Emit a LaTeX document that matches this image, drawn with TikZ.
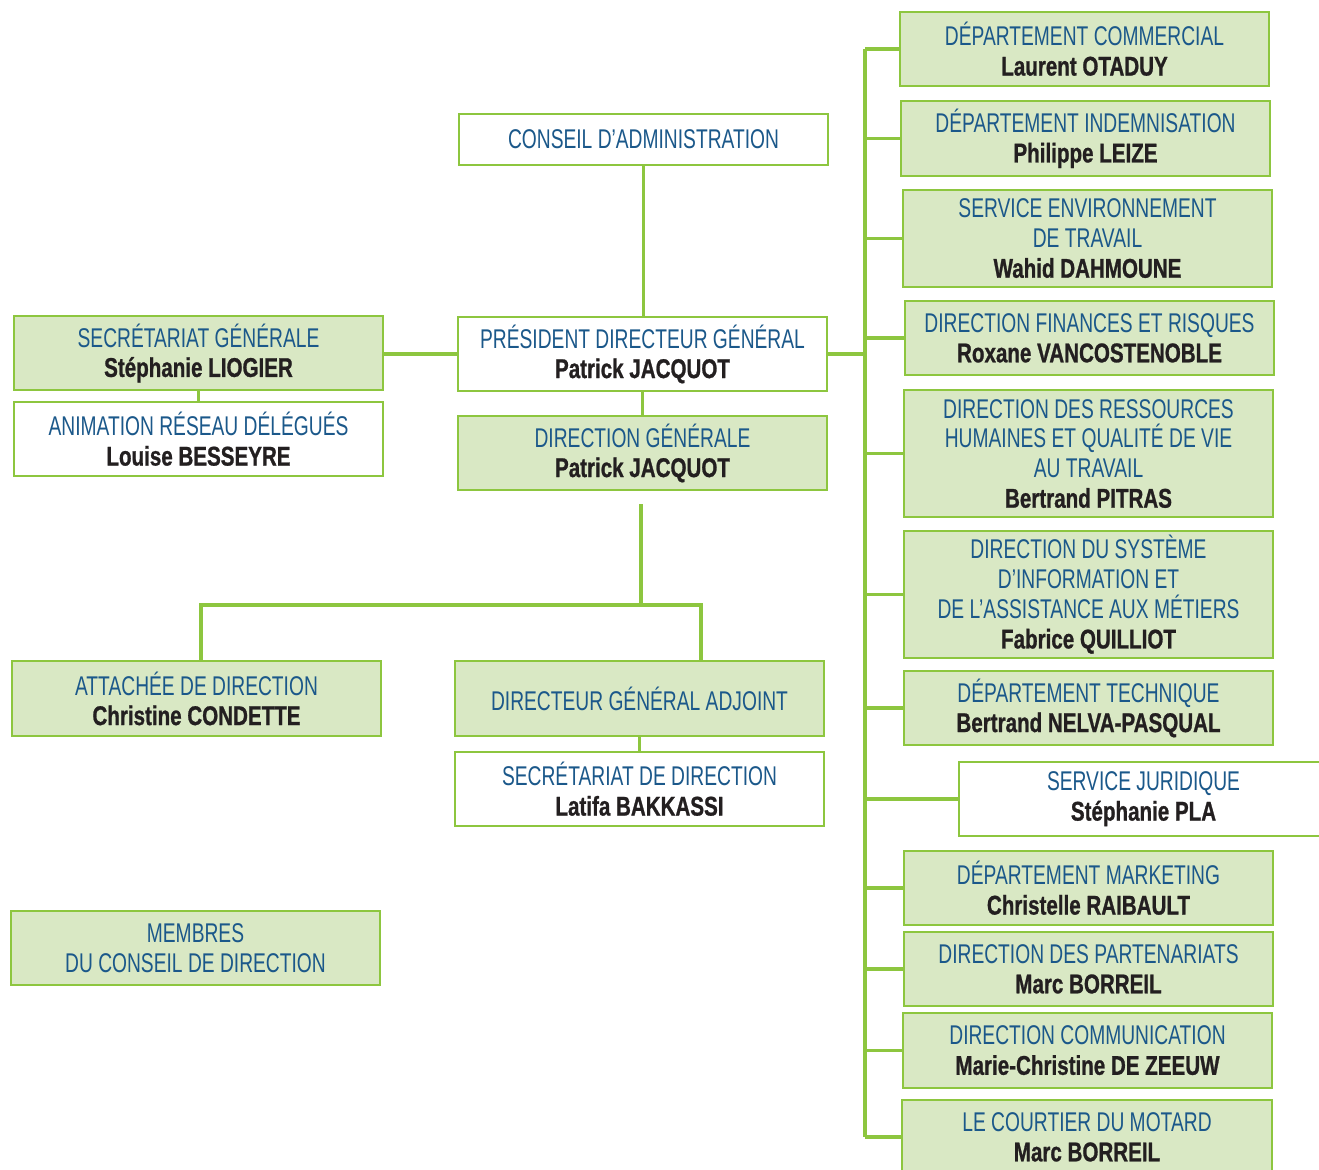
\documentclass[tikz,border=0pt]{standalone}
\usepackage{fontspec}
\usepackage{tikz}
\newfontfamily\titlefont{Liberation Sans}[FakeStretch=0.71]
\newfontfamily\namefont{Liberation Sans}[FakeStretch=0.76, FakeBold=0.9]
\definecolor{boxline}{RGB}{141,198,63}
\definecolor{boxfill}{RGB}{217,232,196}
\definecolor{titleblue}{RGB}{27,88,138}
\definecolor{namecol}{RGB}{35,31,32}
\newcommand{\who}[1]{{\namefont\bfseries\color{namecol}#1}}

\begin{document}
\begin{tikzpicture}[x=0.01cm, y=-0.01cm,
  box/.style={draw=boxline, line width=0.6pt, fill=white, minimum width=3.69cm,
    minimum height=0.74cm, inner sep=0pt, align=center, text=titleblue,
    font={\titlefont\fontsize{7.7}{8.5}\selectfont}},
  greenbox/.style={box, fill=boxfill},
  link/.style={draw=boxline, line width=0.9pt}]
  \useasboundingbox (0,0) rectangle (1319,1169);
  % centre column
  \node[box, minimum height=0.51cm] (ca) at (643.5,139.5) {CONSEIL D’ADMINISTRATION};
  \node[box] (pdg) at (642.5,354) {PRÉSIDENT DIRECTEUR GÉNÉRAL\\\who{Patrick JACQUOT}};
  \node[greenbox] (dg) at (642.5,453) {DIRECTION GÉNÉRALE\\\who{Patrick JACQUOT}};
  \node[greenbox, minimum height=0.75cm] (dga) at (639.5,698.5) {DIRECTEUR GÉNÉRAL ADJOINT};
  \node[box] (sd) at (639.5,789) {SECRÉTARIAT DE DIRECTION\\\who{Latifa BAKKASSI}};
  % left column
  \node[greenbox] (sg) at (198.5,353) {SECRÉTARIAT GÉNÉRALE\\\who{Stéphanie LIOGIER}};
  \node[box] (anim) at (198.5,439) {ANIMATION RÉSEAU DÉLÉGUÉS\\\who{Louise BESSEYRE}};
  \node[greenbox, minimum height=0.75cm] (att) at (196.5,698.5) {ATTACHÉE DE DIRECTION\\\who{Christine CONDETTE}};
  \node[greenbox] (mem) at (195.5,948) {MEMBRES\\DU CONSEIL DE DIRECTION};
  % right column
  \node[greenbox] (com) at (1084.5,49) {DÉPARTEMENT COMMERCIAL\\\who{Laurent OTADUY}};
  \node[greenbox, minimum height=0.75cm] (ind) at (1085.5,138.5) {DÉPARTEMENT INDEMNISATION\\\who{Philippe LEIZE}};
  \node[greenbox, minimum height=0.97cm] (env) at (1087.5,238.5) {SERVICE ENVIRONNEMENT\\DE TRAVAIL\\\who{Wahid DAHMOUNE}};
  \node[greenbox] (fin) at (1089.5,338) {DIRECTION FINANCES ET RISQUES\\\who{Roxane VANCOSTENOBLE}};
  \node[greenbox, minimum height=1.27cm] (rh) at (1088.5,453.5) {DIRECTION DES RESSOURCES\\HUMAINES ET QUALITÉ DE VIE\\AU TRAVAIL\\\who{Bertrand PITRAS}};
  \node[greenbox, minimum height=1.27cm] (si) at (1088.5,594.5) {DIRECTION DU SYSTÈME\\D’INFORMATION ET\\DE L’ASSISTANCE AUX MÉTIERS\\\who{Fabrice QUILLIOT}};
  \node[greenbox] (tech) at (1088.5,708) {DÉPARTEMENT TECHNIQUE\\\who{Bertrand NELVA-PASQUAL}};
  \node[box] (jur) at (1143.5,799) {SERVICE JURIDIQUE\\\who{Stéphanie PLA}};
  \node[greenbox] (mkt) at (1088.5,888) {DÉPARTEMENT MARKETING\\\who{Christelle RAIBAULT}};
  \node[greenbox] (part) at (1088.5,969) {DIRECTION DES PARTENARIATS\\\who{Marc BORREIL}};
  \node[greenbox, minimum height=0.75cm] (comm) at (1087.5,1050.5) {DIRECTION COMMUNICATION\\\who{Marie-Christine DE ZEEUW}};
  \node[greenbox] (crt) at (1087,1137) {LE COURTIER DU MOTARD\\\who{Marc BORREIL}};
  % links
  \coordinate (trunk) at (865,354);
  \coordinate (dgstub) at (641,504);
  \coordinate (bar) at (641,605);
  \coordinate (attin) at (201,661);
  \coordinate (dgain) at (701,661);
  \draw[link] (ca) -- (ca |- pdg.north);
  \draw[link] (pdg) -- (pdg |- dg.north);
  \draw[link] (pdg.west) -- (sg.east |- pdg.west);
  \draw[link] (sg) -- (sg |- anim.north);
  \draw[link] (dgstub) -- (bar);
  \draw[link] (attin) |- (bar) -| (dgain);
  \draw[link] (dga.south -| sd) -- (sd.north);
  \draw[link] (pdg.east) -- (trunk);
  \draw[link] (com.west -| trunk) -- (crt.west -| trunk);
  \foreach \b in {com,ind,env,fin,rh,si,tech,jur,mkt,part,comm,crt}
    \draw[link] (\b.west -| trunk) -- (\b.west);
\end{tikzpicture}
\end{document}
